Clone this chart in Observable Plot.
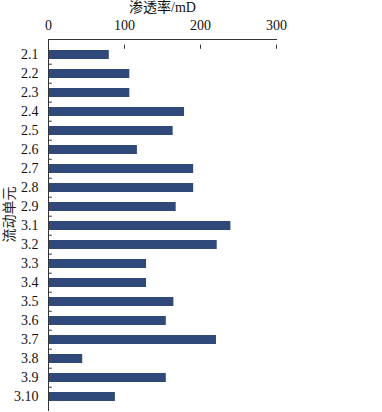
<!DOCTYPE html>
<html>
<head>
<meta charset="utf-8">
<script src="https://cdn.jsdelivr.net/npm/d3@7"></script>
<script src="https://cdn.jsdelivr.net/npm/@observablehq/plot@0.6"></script>
<style>
  html, body { margin: 0; padding: 0; background: #fff; }
</style>
</head>
<body>
<div id="chart"></div>
<script>
const categories = ["2.1","2.2","2.3","2.4","2.5","2.6","2.7","2.8","2.9","3.1","3.2","3.3","3.4","3.5","3.6","3.7","3.8","3.9","3.10"];
const permeability = [80,107,107,179,164,117,191,191,168,240,222,129,129,165,155,221,45,155,88];
const xTicks = [0, 100, 200, 300];
const xTitle = "渗透率/mD";
const yTitle = "流动单元";

const data = categories.map((c, i) => ({cat: c, v: permeability[i]}));

const W = 382, H = 412, mT = 39, mB = 1, mL = 48, mR = 106;
const pIn = 0.55, pOut = pIn / 2;
const step = (H - mT - mB) / categories.length;
const bw = step * (1 - pIn);
const font = "'Liberation Serif', 'Times New Roman', 'Noto Sans CJK SC', serif";

const chart = Plot.plot({
  width: W, height: H,
  marginTop: mT, marginBottom: mB, marginLeft: mL, marginRight: mR,
  style: {fontFamily: font, fontSize: "14px", color: "#111", background: "#fff"},
  x: {domain: [0, 300], axis: null},
  y: {domain: categories, paddingInner: pIn, paddingOuter: pOut, axis: null},
  marks: [
    Plot.barX(data, {x: "v", y: "cat", fill: "#2F4A7A"}),
    Plot.ruleX([0], {stroke: "#333", strokeWidth: 1}),
    Plot.frame({anchor: "top", stroke: "#333"}),
    Plot.text(xTicks, {x: d => d, frameAnchor: "top", dy: -14, lineAnchor: "middle", fontSize: 14, fill: "#111"}),
    Plot.text([xTitle], {frameAnchor: "top", dy: -32, lineAnchor: "middle", fontSize: 14, fill: "#111"}),
    Plot.tickX(xTicks.slice(1), {x: d => d, y: () => categories[0], dy: -step * pOut, insetBottom: bw - 4, stroke: "#333"}),
    Plot.axisY({anchor: "left", tickSize: 0, tickPadding: 10, fontSize: 14, label: null, fill: "#111"}),
    Plot.ruleY(categories.slice(1), {y: d => d, x1: 0, x2: 5, dy: -step / 2, stroke: "#333"}),
    Plot.text([yTitle], {frameAnchor: "left", rotate: -90, textAnchor: "middle", dx: -39, dy: -11, fontSize: 14, fill: "#222"})
  ]
});
document.getElementById("chart").appendChild(chart);
</script>
</body>
</html>
